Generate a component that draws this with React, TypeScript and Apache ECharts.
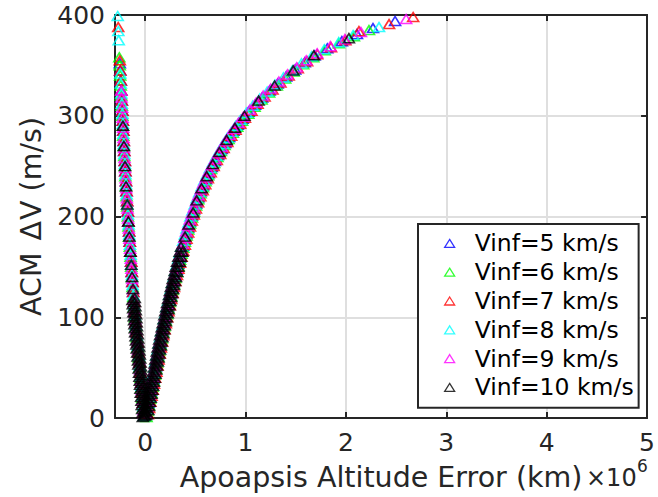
import React, { useEffect, useRef } from "react";
import * as echarts from "echarts";

// x values are in units of 10^6 km (Apoapsis altitude error), y values in m/s (ACM ΔV)
const seriesNames = [
  "Vinf=5 km/s",
  "Vinf=6 km/s",
  "Vinf=7 km/s",
  "Vinf=8 km/s",
  "Vinf=9 km/s",
  "Vinf=10 km/s",
];
const seriesColors = ["#0000ff", "#00ff00", "#ff0000", "#00ffff", "#ff00ff", "#000000"];
const xTicks = [0, 1, 2, 3, 4, 5];

const vinf5Left: number[][] = [
  [-0.014, 5], [-0.022, 15], [-0.031, 25], [-0.039, 35], [-0.048, 45], [-0.057, 55], [-0.067, 65], [-0.077, 75],
  [-0.087, 85], [-0.096, 95], [-0.104, 105], [-0.112, 115], [-0.12, 125], [-0.127, 135], [-0.134, 145],
  [-0.14, 155], [-0.147, 165], [-0.154, 175], [-0.16, 185], [-0.167, 195], [-0.173, 205], [-0.18, 215],
  [-0.186, 225], [-0.192, 235], [-0.198, 245], [-0.203, 255], [-0.209, 265], [-0.214, 275], [-0.218, 285],
  [-0.223, 295], [-0.228, 305], [-0.233, 315], [-0.238, 325], [-0.243, 335], [-0.248, 345], [-0.252, 352],
];
const vinf5Right: number[][] = [
  [0.011, 3], [0.023, 9], [0.035, 15], [0.047, 21], [0.059, 27], [0.071, 33], [0.083, 39], [0.095, 45],
  [0.107, 51], [0.117, 57], [0.129, 63], [0.14, 69], [0.152, 75], [0.164, 81], [0.177, 87], [0.19, 93],
  [0.203, 99], [0.216, 105], [0.229, 111], [0.243, 117], [0.257, 123], [0.271, 129], [0.285, 135], [0.3, 141],
  [0.315, 147], [0.33, 153], [0.346, 159], [0.362, 165], [0.378, 171], [0.395, 177], [0.412, 183], [0.429, 189],
  [0.447, 195], [0.466, 201], [0.487, 207], [0.509, 213], [0.531, 219], [0.555, 225], [0.579, 231], [0.606, 237],
  [0.633, 243], [0.663, 249], [0.695, 255], [0.727, 261], [0.762, 267], [0.799, 273], [0.837, 279], [0.879, 285],
  [0.923, 291], [0.971, 297], [1.03, 304], [1.095, 311], [1.165, 318], [1.24, 325], [1.32, 332], [1.405, 339],
  [1.495, 346], [1.59, 353], [1.69, 360], [1.815, 367], [1.96, 374], [2.11, 381], [2.27, 387], [2.49, 394],
];

const vinf6Left: number[][] = [
  [-0.02, 10], [-0.028, 20], [-0.037, 30], [-0.045, 40], [-0.054, 50], [-0.064, 60], [-0.074, 70], [-0.084, 80],
  [-0.094, 90], [-0.102, 100], [-0.11, 110], [-0.118, 120], [-0.125, 130], [-0.132, 140], [-0.139, 150],
  [-0.145, 160], [-0.152, 170], [-0.159, 180], [-0.165, 190], [-0.172, 200], [-0.178, 210], [-0.185, 220],
  [-0.191, 230], [-0.197, 240], [-0.202, 250], [-0.208, 260], [-0.213, 270], [-0.218, 280], [-0.222, 290],
  [-0.227, 300], [-0.232, 310], [-0.238, 320], [-0.243, 330], [-0.248, 340], [-0.253, 350], [-0.257, 358],
];
const vinf6Right: number[][] = [
  [0.014, 1], [0.026, 7], [0.038, 13], [0.05, 19], [0.062, 25], [0.074, 31], [0.086, 37], [0.098, 43],
  [0.11, 49], [0.121, 55], [0.132, 61], [0.143, 67], [0.155, 73], [0.167, 79], [0.179, 85], [0.192, 91],
  [0.205, 97], [0.219, 103], [0.232, 109], [0.245, 115], [0.259, 121], [0.273, 127], [0.287, 133], [0.302, 139],
  [0.317, 145], [0.332, 151], [0.348, 157], [0.363, 163], [0.38, 169], [0.396, 175], [0.413, 181], [0.43, 187],
  [0.448, 193], [0.467, 199], [0.487, 205], [0.508, 211], [0.53, 217], [0.553, 223], [0.577, 229], [0.602, 235],
  [0.629, 241], [0.657, 247], [0.688, 253], [0.721, 259], [0.755, 265], [0.792, 271], [0.831, 277], [0.874, 283],
  [0.918, 289], [0.966, 295], [1.028, 302], [1.09, 309], [1.16, 316], [1.235, 323], [1.312, 330], [1.395, 337],
  [1.482, 344], [1.575, 351], [1.675, 358], [1.79, 365], [1.93, 372], [2.08, 379], [2.23, 385],
];

const vinf7Left: number[][] = [
  [-0.012, 5], [-0.02, 15], [-0.029, 25], [-0.037, 35], [-0.046, 45], [-0.055, 55], [-0.065, 65], [-0.075, 75],
  [-0.085, 85], [-0.095, 95], [-0.102, 105], [-0.11, 115], [-0.118, 125], [-0.125, 135], [-0.132, 145],
  [-0.138, 155], [-0.145, 165], [-0.152, 175], [-0.158, 185], [-0.165, 195], [-0.171, 205], [-0.178, 215],
  [-0.184, 225], [-0.19, 235], [-0.196, 245], [-0.201, 255], [-0.207, 265], [-0.212, 275], [-0.216, 285],
  [-0.221, 295], [-0.226, 305], [-0.232, 315], [-0.237, 325], [-0.242, 335], [-0.247, 345], [-0.252, 355],
  [-0.268, 388],
];
const vinf7Right: number[][] = [
  [0.028, 4], [0.04, 10], [0.052, 16], [0.064, 22], [0.076, 28], [0.088, 34], [0.1, 40], [0.112, 46],
  [0.124, 52], [0.134, 58], [0.146, 64], [0.157, 70], [0.169, 76], [0.181, 82], [0.194, 88], [0.207, 94],
  [0.22, 100], [0.233, 106], [0.247, 112], [0.26, 118], [0.274, 124], [0.288, 130], [0.302, 136], [0.317, 142],
  [0.332, 148], [0.348, 154], [0.363, 160], [0.379, 166], [0.396, 172], [0.412, 178], [0.429, 184], [0.447, 190],
  [0.465, 196], [0.485, 202], [0.506, 208], [0.528, 214], [0.55, 220], [0.574, 226], [0.599, 232], [0.625, 238],
  [0.653, 244], [0.683, 250], [0.714, 256], [0.748, 262], [0.782, 268], [0.819, 274], [0.858, 280], [0.901, 286],
  [0.946, 292], [0.994, 298], [1.059, 305], [1.12, 312], [1.19, 319], [1.269, 326], [1.348, 333], [1.43, 340],
  [1.521, 347], [1.614, 354], [1.714, 361], [1.852, 368], [1.995, 375], [2.13, 384], [2.43, 391], [2.67, 398],
];

const vinf8Left: number[][] = [
  [-0.012, 2], [-0.019, 12], [-0.027, 22], [-0.036, 32], [-0.044, 42], [-0.053, 52], [-0.063, 62], [-0.073, 72],
  [-0.083, 82], [-0.093, 92], [-0.101, 102], [-0.109, 112], [-0.117, 122], [-0.124, 132], [-0.131, 142],
  [-0.138, 152], [-0.144, 162], [-0.151, 172], [-0.158, 182], [-0.164, 192], [-0.171, 202], [-0.177, 212],
  [-0.184, 222], [-0.19, 232], [-0.196, 242], [-0.201, 252], [-0.207, 262], [-0.212, 272], [-0.217, 282],
  [-0.221, 292], [-0.226, 302], [-0.232, 312], [-0.237, 322], [-0.242, 332], [-0.247, 342], [-0.263, 375],
  [-0.267, 384], [-0.273, 399],
];
const vinf8Right: number[][] = [
  [0.008, 8], [0.02, 14], [0.032, 20], [0.044, 26], [0.056, 32], [0.068, 38], [0.08, 44], [0.092, 50],
  [0.103, 56], [0.114, 62], [0.125, 68], [0.137, 74], [0.149, 80], [0.161, 86], [0.174, 92], [0.187, 98],
  [0.201, 104], [0.214, 110], [0.228, 116], [0.242, 122], [0.255, 128], [0.269, 134], [0.284, 140], [0.299, 146],
  [0.314, 152], [0.33, 158], [0.346, 164], [0.362, 170], [0.379, 176], [0.396, 182], [0.413, 188], [0.432, 194],
  [0.45, 200], [0.471, 206], [0.493, 212], [0.514, 218], [0.538, 224], [0.562, 230], [0.588, 236], [0.616, 242],
  [0.645, 248], [0.676, 254], [0.708, 260], [0.743, 266], [0.779, 272], [0.817, 278], [0.859, 284], [0.902, 290],
  [0.95, 296], [1.009, 303], [1.072, 310], [1.142, 317], [1.216, 324], [1.294, 331], [1.378, 338], [1.467, 345],
  [1.557, 352], [1.658, 359], [1.785, 366], [1.929, 373], [2.072, 380], [2.33, 388],
];

const vinf9Left: number[][] = [
  [-0.017, 8], [-0.025, 18], [-0.033, 28], [-0.042, 38], [-0.05, 48], [-0.06, 58], [-0.07, 68], [-0.08, 78],
  [-0.09, 88], [-0.098, 98], [-0.107, 108], [-0.115, 118], [-0.122, 128], [-0.129, 138], [-0.136, 148],
  [-0.142, 158], [-0.149, 168], [-0.156, 178], [-0.162, 188], [-0.169, 198], [-0.175, 208], [-0.182, 218],
  [-0.188, 228], [-0.194, 238], [-0.199, 248], [-0.205, 258], [-0.21, 268], [-0.215, 278], [-0.219, 288],
  [-0.224, 298], [-0.229, 308], [-0.235, 318], [-0.238, 325],
];
const vinf9Right: number[][] = [
  [0.006, 5], [0.018, 11], [0.03, 17], [0.042, 23], [0.054, 29], [0.066, 35], [0.078, 41], [0.09, 47],
  [0.101, 53], [0.112, 59], [0.124, 65], [0.135, 71], [0.147, 77], [0.159, 83], [0.172, 89], [0.185, 95],
  [0.198, 101], [0.211, 107], [0.225, 113], [0.239, 119], [0.252, 125], [0.266, 131], [0.281, 137], [0.296, 143],
  [0.311, 149], [0.326, 155], [0.342, 161], [0.358, 167], [0.375, 173], [0.391, 179], [0.408, 185], [0.426, 191],
  [0.445, 197], [0.464, 203], [0.486, 209], [0.507, 215], [0.53, 221], [0.554, 227], [0.578, 233], [0.605, 239],
  [0.634, 245], [0.664, 251], [0.696, 257], [0.729, 263], [0.764, 269], [0.801, 275], [0.841, 281], [0.884, 287],
  [0.929, 293], [0.978, 299], [1.043, 306], [1.106, 313], [1.176, 320], [1.251, 327], [1.332, 334], [1.418, 341],
  [1.51, 348], [1.605, 355], [1.714, 362], [1.845, 369], [1.99, 376], [2.15, 383], [2.6, 396],
];

const vinf10Left: number[][] = [
  [-0.023, 1], [-0.026, 5], [-0.029, 9], [-0.033, 13], [-0.036, 17], [-0.039, 21], [-0.043, 25], [-0.046, 29],
  [-0.05, 33], [-0.053, 37], [-0.056, 41], [-0.06, 45], [-0.063, 49], [-0.067, 53], [-0.071, 57], [-0.075, 61],
  [-0.079, 65], [-0.083, 69], [-0.087, 73], [-0.091, 77], [-0.095, 81], [-0.099, 85], [-0.103, 89], [-0.106, 93],
  [-0.11, 97], [-0.113, 101], [-0.116, 105], [-0.119, 109], [-0.123, 113], [-0.126, 117],
  [0.0, 3], [-0.004, 7], [-0.007, 11], [-0.01, 15], [-0.013, 19], [-0.017, 23], [-0.02, 27], [-0.024, 31],
  [-0.027, 35], [-0.03, 39], [-0.034, 43], [-0.037, 47], [-0.041, 51], [-0.045, 55], [-0.049, 59], [-0.053, 63],
  [-0.057, 67], [-0.061, 71], [-0.065, 75], [-0.069, 79], [-0.073, 83], [-0.077, 87], [-0.081, 91], [-0.084, 95],
  [-0.087, 99], [-0.09, 103], [-0.093, 107], [-0.097, 111], [-0.1, 115], [-0.103, 119],
  [-0.121, 128], [-0.13, 140], [-0.138, 152], [-0.147, 165], [-0.157, 180], [-0.167, 195], [-0.178, 212],
  [-0.19, 230], [-0.2, 250], [-0.211, 270], [-0.221, 290],
];
const vinf10Right: number[][] = [
  [-0.008, 2], [0.0, 6], [0.008, 10], [0.016, 14], [0.024, 18], [0.032, 22], [0.04, 26], [0.048, 30],
  [0.056, 34], [0.064, 38], [0.072, 42], [0.08, 46], [0.088, 50], [0.095, 54], [0.102, 58], [0.11, 62],
  [0.117, 66], [0.125, 70], [0.133, 74], [0.141, 78], [0.149, 82], [0.158, 86], [0.166, 90], [0.175, 94],
  [0.184, 98], [0.192, 102], [0.201, 106], [0.21, 110], [0.219, 114], [0.229, 118], [0.238, 122], [0.247, 126],
  [0.256, 130], [0.266, 134], [0.275, 138], [0.285, 142], [0.295, 146], [0.305, 150], [0.318, 155], [0.331, 160],
  [0.344, 165], [0.358, 170],
  [0.023, 4], [0.031, 8], [0.039, 12], [0.047, 16], [0.055, 20], [0.063, 24], [0.071, 28], [0.079, 32],
  [0.087, 36], [0.095, 40], [0.103, 44], [0.111, 48], [0.119, 52], [0.126, 56], [0.133, 60], [0.141, 64],
  [0.148, 68], [0.156, 72], [0.164, 76], [0.172, 80], [0.181, 84], [0.189, 88], [0.197, 92], [0.206, 96],
  [0.215, 100], [0.224, 104], [0.233, 108], [0.242, 112], [0.251, 116], [0.26, 120], [0.269, 124], [0.278, 128],
  [0.288, 132], [0.297, 136], [0.307, 140], [0.32, 145], [0.332, 150], [0.345, 155], [0.358, 160], [0.372, 165],
  [0.398, 180], [0.433, 192], [0.479, 204], [0.514, 216], [0.562, 228], [0.614, 240], [0.674, 252], [0.739, 264],
  [0.812, 276], [0.895, 288], [0.99, 300], [1.13, 315], [1.29, 330], [1.475, 345], [1.68, 360], [2.03, 377],
];

const seriesData = [
  [...vinf5Left, ...vinf5Right],
  [...vinf6Left, ...vinf6Right],
  [...vinf7Left, ...vinf7Right],
  [...vinf8Left, ...vinf8Right],
  [...vinf9Left, ...vinf9Right],
  [...vinf10Left, ...vinf10Right],
];

const FONT = "DejaVu Sans";
const INK = "#262626";

export default function App() {
  const ref = useRef<HTMLDivElement>(null);

  useEffect(() => {
    if (!ref.current) return;
    const chart = echarts.init(ref.current, undefined, { renderer: "svg" });

    const axisCommonX = {
      type: "value" as const,
      min: -0.3,
      max: 5,
      axisLine: { show: true, onZero: false, lineStyle: { color: INK, width: 2 } },
      axisTick: { show: true, inside: true, length: 6, customValues: xTicks, lineStyle: { color: INK, width: 2 } },
    };
    const axisCommonY = {
      type: "value" as const,
      min: 0,
      max: 400,
      interval: 100,
      axisLine: { show: true, onZero: false, lineStyle: { color: INK, width: 2 } },
      axisTick: { show: true, inside: true, length: 6, lineStyle: { color: INK, width: 2 } },
    };

    chart.setOption({
      animation: false,
      backgroundColor: "#ffffff",
      grid: { left: 115, right: 8, top: 15, bottom: 79, containLabel: false },
      xAxis: [
        {
          ...axisCommonX,
          position: "bottom",
          axisLabel: {
            customValues: xTicks,
            fontSize: 25,
            fontFamily: FONT,
            color: INK,
            margin: 12,
            formatter: (v: number) => String(Math.round(v)),
          },
          splitLine: { show: true, lineStyle: { color: "#dfdfdf", width: 2 } },
          name: "Apoapsis Altitude Error (km)",
          nameLocation: "middle",
          nameGap: 45,
          nameTextStyle: { fontSize: 28.5, fontFamily: FONT, color: INK },
        },
        {
          ...axisCommonX,
          position: "top",
          axisLabel: { show: false },
          splitLine: { show: false },
        },
      ],
      yAxis: [
        {
          ...axisCommonY,
          position: "left",
          axisLabel: { fontSize: 25, fontFamily: FONT, color: INK, margin: 10 },
          splitLine: { show: true, lineStyle: { color: "#dfdfdf", width: 2 } },
          name: "ACM {d|Δ}V (m/s)",
          nameLocation: "middle",
          nameGap: 67,
          nameTextStyle: {
            fontSize: 28.5,
            fontFamily: FONT,
            color: INK,
            rich: { d: { fontSize: 28.5, fontFamily: FONT, color: INK, padding: [0, 1, 0, 3] } },
          },
        },
        {
          ...axisCommonY,
          position: "right",
          axisLabel: { show: false },
          splitLine: { show: false },
        },
      ],
      legend: {
        orient: "vertical",
        left: 418,
        top: 224,
        padding: [5, 5, 6, 26],
        itemGap: 0,
        itemWidth: 40,
        itemHeight: 8,
        backgroundColor: "#ffffff",
        borderColor: INK,
        borderWidth: 2,
        borderRadius: 0,
        itemStyle: { borderWidth: 1.3 },
        textStyle: { fontSize: 23.5, fontFamily: FONT, color: "#000000", lineHeight: 28.8 },
        data: seriesNames.map((n) => ({ name: n, icon: "path://M5,0L10,8L0,8Z" })),
      },
      graphic: [
        {
          type: "text",
          left: 586,
          top: 466,
          style: { text: "×10", fontSize: 24, fontFamily: FONT, fill: INK },
        },
        {
          type: "text",
          left: 637,
          top: 457,
          style: { text: "6", fontSize: 17, fontFamily: FONT, fill: INK },
        },
      ],
      series: seriesNames.map((name, i) => ({
        name,
        type: "scatter",
        xAxisIndex: 0,
        yAxisIndex: 0,
        symbol: "triangle",
        symbolSize: [11, 9],
        data: seriesData[i],
        itemStyle: { color: "transparent", borderColor: seriesColors[i], borderWidth: 1.6 },
        emphasis: { disabled: true },
        z: 2 + i,
      })),
    });

    return () => chart.dispose();
  }, []);

  return <div ref={ref} style={{ width: 658, height: 497, position: "absolute", left: 0, top: 0 }} />;
}
